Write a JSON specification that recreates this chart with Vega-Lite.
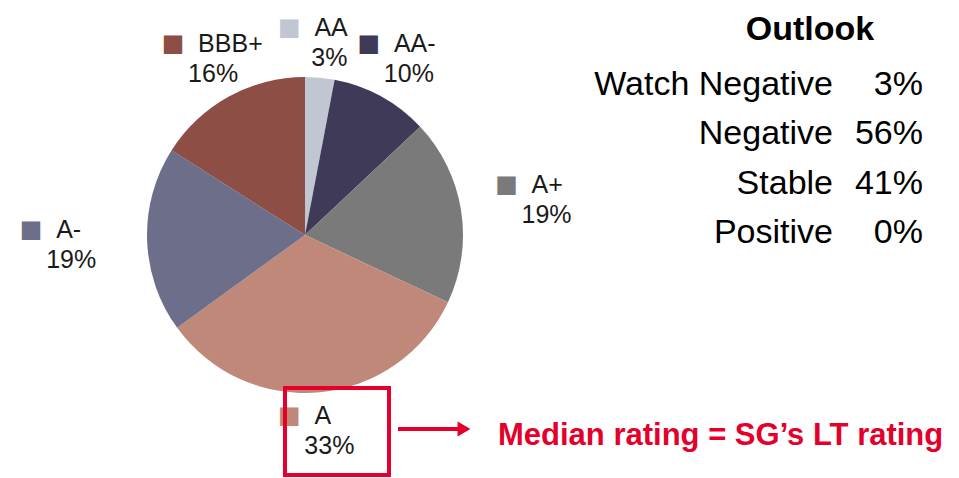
{
  "$schema": "https://vega.github.io/schema/vega-lite/v6.json",
  "width": 959,
  "height": 478,
  "padding": 0,
  "autosize": {"type": "fit", "contains": "padding"},
  "background": "white",
  "config": {"view": {"stroke": null}, "font": "Liberation Sans"},
  "datasets": {
    "ratings": [
      {"rating": "AA", "share": 3, "rank": 1},
      {"rating": "AA-", "share": 10, "rank": 2},
      {"rating": "A+", "share": 19, "rank": 3},
      {"rating": "A", "share": 33, "rank": 4},
      {"rating": "A-", "share": 19, "rank": 5},
      {"rating": "BBB+", "share": 16, "rank": 6}
    ],
    "outlook": [
      {"status": "Watch Negative", "pct": "3%", "order": 1},
      {"status": "Negative", "pct": "56%", "order": 2},
      {"status": "Stable", "pct": "41%", "order": 3},
      {"status": "Positive", "pct": "0%", "order": 4}
    ]
  },
  "layer": [
    {
      "data": {"name": "ratings"},
      "transform": [{"calculate": "datum.share + '%'", "as": "pctLabel"}],
      "encoding": {
        "theta": {"field": "share", "type": "quantitative", "stack": true},
        "order": {"field": "rank", "type": "quantitative"}
      },
      "layer": [
        {
          "mark": {"type": "arc", "x": 305, "y": 235, "outerRadius": 158},
          "encoding": {
            "color": {
              "field": "rating",
              "type": "nominal",
              "scale": {
                "domain": ["AA", "AA-", "A+", "A", "A-", "BBB+"],
                "range": ["#c0c7d2", "#3e3a58", "#7a7a7a", "#c08878", "#6d6e89", "#8c4e45"]
              },
              "legend": null
            }
          }
        },
        {
          "mark": {"type": "text", "x": 311, "y": 237, "radius": {"expr": "1 / sqrt(pow(sin(scale('theta', (datum.share_start + datum.share_end) / 2)) / 240, 2) + pow(cos(scale('theta', (datum.share_start + datum.share_end) / 2)) / 195, 2))"}, "text": "■", "font": "DejaVu Sans", "fontSize": 24, "dx": -40, "dy": -15, "baseline": "middle", "align": "center"},
          "encoding": {
            "color": {"field": "rating", "type": "nominal", "legend": null}
          }
        },
        {
          "mark": {"type": "text", "x": 311, "y": 237, "radius": {"expr": "1 / sqrt(pow(sin(scale('theta', (datum.share_start + datum.share_end) / 2)) / 240, 2) + pow(cos(scale('theta', (datum.share_start + datum.share_end) / 2)) / 195, 2))"}, "fontSize": 25, "dx": -15, "dy": -15, "baseline": "middle", "align": "left", "color": "#1a1a1a"},
          "encoding": {"text": {"field": "rating"}}
        },
        {
          "mark": {"type": "text", "x": 311, "y": 237, "radius": {"expr": "1 / sqrt(pow(sin(scale('theta', (datum.share_start + datum.share_end) / 2)) / 240, 2) + pow(cos(scale('theta', (datum.share_start + datum.share_end) / 2)) / 195, 2))"}, "fontSize": 25, "dy": 15, "baseline": "middle", "align": "center", "color": "#1a1a1a"},
          "encoding": {"text": {"field": "pctLabel"}}
        }
      ]
    },
    {
      "data": {"name": "outlook"},
      "encoding": {
        "y": {"field": "status", "type": "ordinal", "sort": {"field": "order"}, "scale": {"type": "point", "range": [95, 243], "padding": 0}, "axis": null}
      },
      "layer": [
        {
          "mark": {"type": "text", "x": 833, "align": "right", "baseline": "alphabetic", "fontSize": 34, "color": "black"},
          "encoding": {"text": {"field": "status"}}
        },
        {
          "mark": {"type": "text", "x": 923, "align": "right", "baseline": "alphabetic", "fontSize": 34, "color": "black"},
          "encoding": {"text": {"field": "pct"}}
        }
      ]
    },
    {
      "data": {"values": [{}]},
      "mark": {"type": "text", "text": "Outlook", "x": 810, "y": 40, "align": "center", "baseline": "alphabetic", "fontSize": 34, "fontWeight": "bold", "color": "black"},
      "encoding": {}
    },
    {
      "data": {"values": [{}]},
      "mark": {"type": "rect", "fill": null, "fillOpacity": 0, "stroke": "#e4002b", "strokeWidth": 4},
      "encoding": {"x": {"value": 285}, "x2": {"value": 389}, "y": {"value": 388}, "y2": {"value": 475}}
    },
    {
      "data": {"values": [{}]},
      "mark": {"type": "rule", "stroke": "#e4002b", "strokeWidth": 4},
      "encoding": {"x": {"value": 398}, "x2": {"value": 462}, "y": {"value": 429}, "y2": {"value": 429}}
    },
    {
      "data": {"values": [{}]},
      "mark": {"type": "point", "shape": "triangle-right", "size": 220, "filled": true, "color": "#e4002b", "opacity": 1},
      "encoding": {"x": {"value": 464}, "y": {"value": 429}}
    },
    {
      "data": {"values": [{}]},
      "mark": {"type": "text", "text": "Median rating = SG’s LT rating", "x": 498, "y": 445, "align": "left", "baseline": "alphabetic", "fontSize": 31, "fontWeight": "bold", "color": "#e4002b"},
      "encoding": {}
    }
  ]
}
